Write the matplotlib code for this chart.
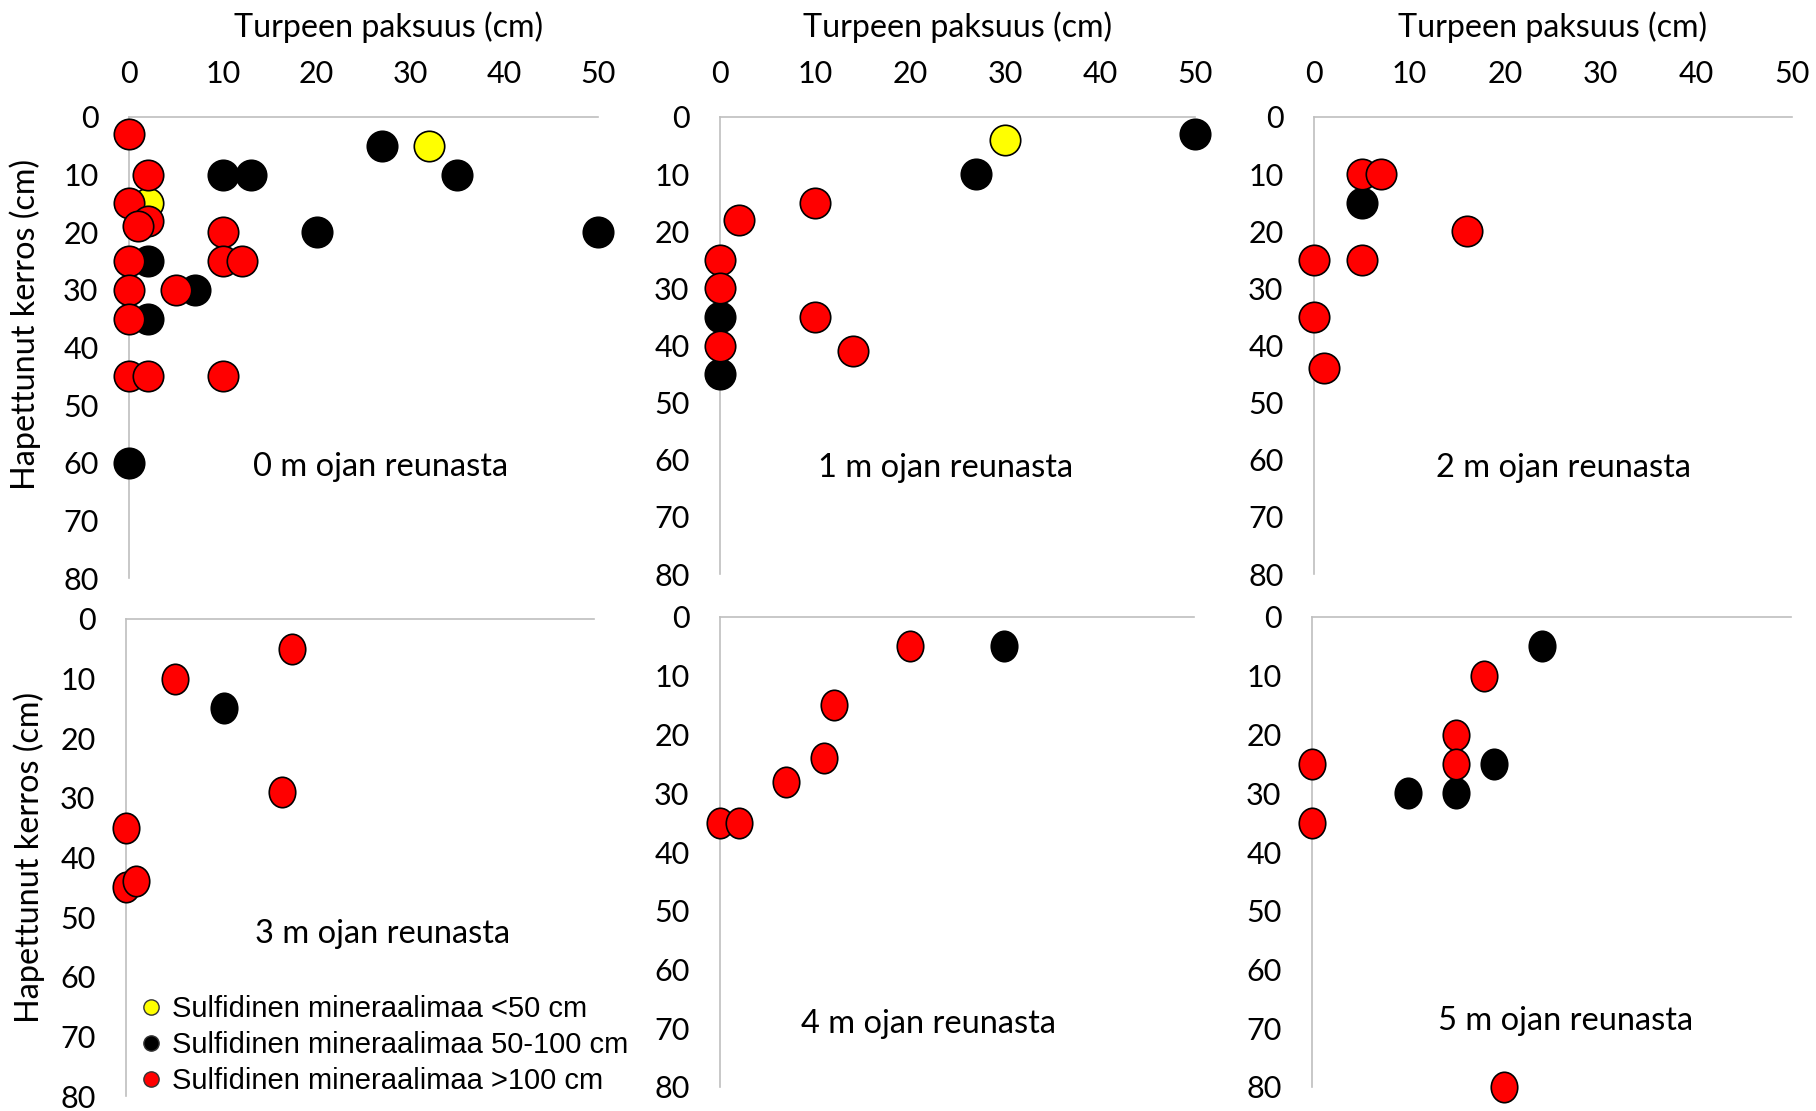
#!/usr/bin/env python3
# -*- coding: utf-8 -*-

import matplotlib
matplotlib.use('Agg')
from matplotlib import pyplot as plt
from matplotlib.path import Path
from matplotlib.transforms import Affine2D
from matplotlib.lines import Line2D

# --- data: (turpeen paksuus, hapettunut kerros) per panel & class ---
titles = ['0 m ojan reunasta', '1 m ojan reunasta', '2 m ojan reunasta',
          '3 m ojan reunasta', '4 m ojan reunasta', '5 m ojan reunasta']
classes = ['Sulfidinen mineraalimaa <50 cm',
           'Sulfidinen mineraalimaa 50-100 cm',
           'Sulfidinen mineraalimaa >100 cm']

p0_yellow_x = [32, 2]
p0_yellow_y = [5, 15]
p0_black_x = [27, 10, 13, 35, 20, 50, 2, 7, 2, 0]
p0_black_y = [5, 10, 10, 10, 20, 20, 25, 30, 35, 60]
p0_red_x = [0, 2, 0, 2, 1, 10, 0, 10, 12, 5, 0, 0, 0, 2, 10]
p0_red_y = [3, 10, 15, 18, 19, 20, 25, 25, 25, 30, 30, 35, 45, 45, 45]

p1_yellow_x = [30]
p1_yellow_y = [4]
p1_black_x = [50, 27, 0, 0]
p1_black_y = [3, 10, 35, 45]
p1_red_x = [10, 2, 0, 0, 10, 0, 14]
p1_red_y = [15, 18, 25, 30, 35, 40, 41]

p2_black_x = [5]
p2_black_y = [15]
p2_red_x = [5, 7, 16, 0, 5, 0, 1]
p2_red_y = [10, 10, 20, 25, 25, 35, 44]

p3_black_x = [10]
p3_black_y = [15]
p3_red_x = [17, 5, 16, 0, 0, 1]
p3_red_y = [5, 10, 29, 35, 45, 44]

p4_black_x = [30]
p4_black_y = [5]
p4_red_x = [20, 12, 11, 7, 0, 2]
p4_red_y = [5, 15, 24, 28, 35, 35]

p5_black_x = [24, 19, 10, 15]
p5_black_y = [5, 25, 30, 30]
p5_red_x = [18, 15, 15, 0, 0, 20]
p5_red_y = [10, 20, 25, 25, 35, 80]

x_ticks = [0, 10, 20, 30, 40, 50]
y_ticks = [0, 10, 20, 30, 40, 50, 60, 70, 80]

# --- layout (pixels of a 1816x1111 canvas) ---
W, H = 1816, 1111
FONT = 'Lato'
LEG_FONT = 'Liberation Sans'
AXIS_GREY = '#BFBFBF'
YELLOW, BLACK, RED = '#FFFF00', '#000000', '#FF0000'

plt.rcParams['font.family'] = FONT

fig = plt.figure(figsize=(W / 100, H / 100), dpi=100)

# left, top, right, bottom, xmax, show x labels
boxes = [(129, 117, 598, 578, 50, True),
         (720, 117, 1195, 574, 50, True),
         (1314, 117, 1792, 574, 50, True),
         (126, 619, 594, 1096, 48, False),
         (720, 617, 1194, 1087, 50, False),
         (1312, 617, 1791, 1087, 50, False)]

round_marker = Path.unit_circle()
oval_marker = round_marker.transformed(Affine2D().scale(1.0, 1.15))


def fx(px):
    return px / W


def fy(py):
    return 1 - py / H


def make_axes(left, top, right, bottom, xmax, show_x):
    ax = fig.add_axes([fx(left), fy(bottom), fx(right - left), (bottom - top) / H])
    ax.set_xlim(0, xmax)
    ax.set_ylim(80, 0)
    ax.set_xticks([t for t in x_ticks if t <= xmax])
    ax.set_yticks(y_ticks)
    ax.xaxis.tick_top()
    for side in ('right', 'bottom'):
        ax.spines[side].set_visible(False)
    for side in ('left', 'top'):
        ax.spines[side].set_color(AXIS_GREY)
        ax.spines[side].set_linewidth(1.2)
    ax.tick_params(length=0, labelsize=22, pad=22)
    ax.tick_params(axis='x', pad=21)
    if not show_x:
        ax.set_xticklabels([])
    ax.patch.set_alpha(0)
    return ax


def dots(ax, xs, ys, color, marker):
    ax.scatter(xs, ys, s=480, c=color, marker=marker, edgecolors='black',
               linewidths=1.2, clip_on=False, zorder=3)


axes = [make_axes(*b) for b in boxes]

dots(axes[0], p0_yellow_x, p0_yellow_y, YELLOW, round_marker)
dots(axes[0], p0_black_x, p0_black_y, BLACK, round_marker)
dots(axes[0], p0_red_x, p0_red_y, RED, round_marker)

dots(axes[1], p1_yellow_x, p1_yellow_y, YELLOW, round_marker)
dots(axes[1], p1_black_x, p1_black_y, BLACK, round_marker)
dots(axes[1], p1_red_x, p1_red_y, RED, round_marker)

dots(axes[2], p2_black_x, p2_black_y, BLACK, round_marker)
dots(axes[2], p2_red_x, p2_red_y, RED, round_marker)

dots(axes[3], p3_black_x, p3_black_y, BLACK, oval_marker)
dots(axes[3], p3_red_x, p3_red_y, RED, oval_marker)

dots(axes[4], p4_black_x, p4_black_y, BLACK, oval_marker)
dots(axes[4], p4_red_x, p4_red_y, RED, oval_marker)

dots(axes[5], p5_black_x, p5_black_y, BLACK, oval_marker)
dots(axes[5], p5_red_x, p5_red_y, RED, oval_marker)

# axis titles
for cx in (389, 958, 1553):
    fig.text(fx(cx), fy(27), 'Turpeen paksuus (cm)', fontsize=23.2,
             ha='center', va='center')
for cx, cy in ((25, 324), (29, 857)):
    fig.text(fx(cx), fy(cy), 'Hapettunut kerros (cm)', fontsize=23.3,
             rotation=90, ha='center', va='center')

# panel captions
for (cx, cy), txt in zip([(381, 467), (946, 468), (1564, 468),
                          (383, 934), (929, 1024), (1566, 1021)], titles):
    fig.text(fx(cx), fy(cy), txt, fontsize=23.5, ha='center', va='center')

# legend
handles = [Line2D([], [], ls='none', marker='o', markersize=11,
                  markerfacecolor=c, markeredgecolor='#333333',
                  markeredgewidth=1.0) for c in (YELLOW, BLACK, RED)]
fig.legend(handles, classes, loc='upper left',
           bbox_to_anchor=(fx(138), fy(995)), frameon=False,
           prop={'family': LEG_FONT, 'size': 21}, handletextpad=0.25,
           handlelength=0.9, labelspacing=0.28, borderpad=0, borderaxespad=0)

plt.savefig('out.png', dpi=100)
plt.close()
